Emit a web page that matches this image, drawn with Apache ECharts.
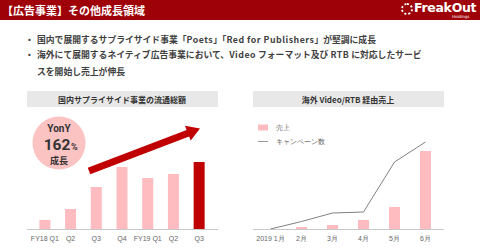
<!DOCTYPE html>
<html>
<head>
<meta charset="utf-8">
<script src="https://cdn.jsdelivr.net/npm/echarts@6/dist/echarts.min.js"></script>
<style>
  body { margin: 0; width: 480px; height: 252px; overflow: hidden; background: #fff;
         font-family: "Noto Sans CJK JP", "Noto Sans", sans-serif; }
  #chart { position: absolute; left: 0; top: 0; width: 480px; height: 252px; }
  .header { position: absolute; left: 0; top: 0; width: 480px; height: 20px; background: #9e0208; }
  .header .title { position: absolute; left: 2px; top: 3px; font-size: 11px; line-height: 14px;
                   font-weight: bold; color: #fff; white-space: nowrap; }
  .logo { position: absolute; left: 401px; top: 0; color: #fff; white-space: nowrap; }
  .logo .icon { position: absolute; left: 0; top: 3px; width: 12px; height: 12px; border-radius: 50%;
                border: 2px dotted #fff; box-sizing: border-box; }
  .logo .name { position: absolute; left: 13px; top: 1px; font-family: "DejaVu Sans", sans-serif;
                font-size: 12.5px; font-weight: bold; line-height: 14px; letter-spacing: -0.3px; }
  .logo .sub { position: absolute; left: 51px; top: 14px; font-family: "DejaVu Sans", sans-serif;
               font-size: 4px; line-height: 5px; }
  .bullet { position: absolute; left: 25px; font-size: 8.8px; font-weight: bold; color: #404040;
            line-height: 12px; white-space: nowrap; }
  .bullet span.dot { display: inline-block; width: 12px; }
  .lat { letter-spacing: 0.5px; }
  .cont { position: absolute; left: 37px; font-size: 8.8px; font-weight: bold; color: #404040;
          line-height: 12px; white-space: nowrap; }
</style>
</head>
<body>
<div id="chart"></div>
<div class="header">
  <div class="title">【広告事業】その他成長領域</div>
  <div class="logo"><div class="icon"></div><div class="name">FreakOut</div><div class="sub">Holdings</div></div>
</div>
<div class="bullet" style="top:34px"><span class="dot">・</span>国内で展開するサプライサイド事業「<span class="lat">Poets</span>」「<span class="lat">Red for Publishers</span>」が堅調に成長</div>
<div class="bullet" style="top:49px"><span class="dot">・</span>海外にて展開するネイティブ広告事業において、<span class="lat">Video</span> フォーマット及び <span class="lat">RTB</span> に対応したサービ</div>
<div class="cont" style="top:66px">スを開始し売上が伸長</div>
<script>
// 国内サプライサイド事業の流通総額
var leftLabels = ['FY18 Q1', 'Q2', 'Q3', 'Q4', 'FY19 Q1', 'Q2', 'Q3'];
var leftValues = [9, 20, 42, 62, 51, 55, 67];

// 海外 Video/RTB 経由売上
var rightLabels = ['2019 1月', '2月', '3月', '4月', '5月', '6月'];
var salesValues = [0, 2, 4, 9, 22, 78];
var campaignValues = [0, 7.5, 16, 17, 67, 87];

var pink = '#ffbcc0';
var darkRed = '#c00000';
var jp = 'Noto Sans CJK JP';

var chart = echarts.init(document.getElementById('chart'), null, { renderer: 'svg' });

// 矢印の形
function arrowPoints(x1, y1, x2, y2, halfShaft, headLen, halfHead) {
    var dx = x2 - x1, dy = y2 - y1;
    var len = Math.sqrt(dx * dx + dy * dy);
    var ux = dx / len, uy = dy / len;
    var nx = -uy, ny = ux;
    var bx = x2 - ux * headLen, by = y2 - uy * headLen;
    return [
        [x1 + nx * halfShaft, y1 + ny * halfShaft],
        [bx + nx * halfShaft, by + ny * halfShaft],
        [bx + nx * halfHead, by + ny * halfHead],
        [x2, y2],
        [bx - nx * halfHead, by - ny * halfHead],
        [bx - nx * halfShaft, by - ny * halfShaft],
        [x1 - nx * halfShaft, y1 - ny * halfShaft]
    ];
}

function label(x, y, text, size, align, font) {
    return {
        type: 'text', x: x, y: y,
        style: { text: text, fontSize: size, lineHeight: size, fontWeight: 'bold', fill: '#333',
                 align: align || 'center', verticalAlign: 'middle', fontFamily: font || jp }
    };
}

var axisLabel = { fontSize: 7, color: '#666', margin: 6, interval: 0 };

chart.setOption({
    animation: false,
    grid: [
        { left: 32, right: 268, top: 129, bottom: 23 },
        { left: 255, right: 39, top: 129, bottom: 23 }
    ],
    xAxis: [
        {
            type: 'category', gridIndex: 0, data: leftLabels,
            axisLine: { show: false }, axisTick: { show: false }, axisLabel: axisLabel
        },
        {
            type: 'category', gridIndex: 1, data: rightLabels,
            axisLine: { show: false }, axisTick: { show: false }, axisLabel: axisLabel
        }
    ],
    yAxis: [
        { type: 'value', gridIndex: 0, min: 0, max: 100, show: false },
        { type: 'value', gridIndex: 1, min: 0, max: 100, show: false }
    ],
    legend: {
        orient: 'vertical', left: 253, top: 119, itemWidth: 10, itemHeight: 6, itemGap: 7,
        textStyle: { fontSize: 7, color: '#666', padding: [0, 0, 0, 3] },
        data: [
            { name: '売上', icon: 'rect' },
            { name: 'キャンペーン数', icon: 'path://M0,0 H100 V8 H0 Z' }
        ]
    },
    series: [
        {
            type: 'bar', xAxisIndex: 0, yAxisIndex: 0, barWidth: 11,
            data: leftValues.map(function (v, i) {
                return { value: v, itemStyle: { color: i === leftValues.length - 1 ? darkRed : pink } };
            })
        },
        {
            name: '売上', type: 'bar', xAxisIndex: 1, yAxisIndex: 1, barWidth: 11,
            itemStyle: { color: pink }, data: salesValues
        },
        {
            name: 'キャンペーン数', type: 'line', xAxisIndex: 1, yAxisIndex: 1,
            symbol: 'none', lineStyle: { color: '#808080', width: 1 }, itemStyle: { color: '#808080' },
            data: campaignValues
        }
    ],
    graphic: [
        // 見出しボックス
        { type: 'rect', shape: { x: 27, y: 91, width: 191, height: 16 }, style: { fill: '#e8e8e8' } },
        label(122, 99, '国内サプライサイド事業の流通総額', 8),
        { type: 'rect', shape: { x: 253, y: 91, width: 191, height: 16 }, style: { fill: '#e8e8e8' } },
        label(348, 99, '海外 Video/RTB 経由売上', 8),
        // 軸線
        { type: 'line', shape: { x1: 27, y1: 229.5, x2: 218, y2: 229.5 }, style: { stroke: '#c8c8c8', lineWidth: 1 } },
        { type: 'line', shape: { x1: 253, y1: 229.5, x2: 444, y2: 229.5 }, style: { stroke: '#c8c8c8', lineWidth: 1 } },
        // YonY
        { type: 'circle', shape: { cx: 59, cy: 143, r: 26.5 }, style: { fill: '#fcc3c3' } },
        label(59, 128, 'YonY', 10, 'center', 'Roboto'),
        label(57, 144.5, '162', 15.5, 'center', 'Roboto'),
        label(71, 146.5, '%', 9, 'left', 'Roboto'),
        label(59, 160.5, '成長', 9),
        // 矢印
        { type: 'polygon', shape: { points: arrowPoints(89, 171, 200, 128.5, 3.5, 13, 8) }, style: { fill: darkRed } }
    ]
});
</script>
</body>
</html>
